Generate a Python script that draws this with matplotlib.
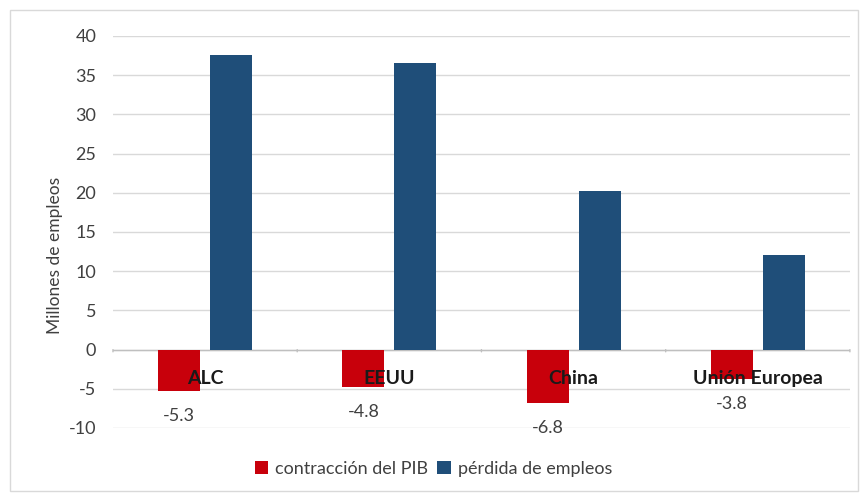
import matplotlib
matplotlib.use("Agg")
import matplotlib.pyplot as plt
from matplotlib.patches import Rectangle
import numpy as np

categories = ["ALC", "EEUU", "China", "Unión Europea"]
contraccion_pib = [-5.3, -4.8, -6.8, -3.8]
perdida_empleos = [37.6, 36.5, 20.2, 12.1]
pib_labels = ["-5.3", "-4.8", "-6.8", "-3.8"]
yticks = [-10, -5, 0, 5, 10, 15, 20, 25, 30, 35, 40]

plt.rcParams['font.family'] = ['Lato', 'DejaVu Sans']

RED = '#c8000b'
BLUE = '#1f4e79'
TXT = '#404040'

fig = plt.figure(figsize=(8.67, 5.0), dpi=100)
fig.patches.append(Rectangle((0.012, 0.018), 0.978, 0.962, transform=fig.transFigure,
                             fill=False, edgecolor='#d9d9d9', linewidth=1.0))
ax = fig.add_axes([0.1303, 0.144, 0.850, 0.784])

x = np.arange(len(categories))
w = 0.228
off = 0.141
ax.bar(x - off, contraccion_pib, width=w, color=RED, label='contracción del PIB', zorder=3)
ax.bar(x + off, perdida_empleos, width=w, color=BLUE, label='pérdida de empleos', zorder=3)

ax.set_ylim(-10, 40)
ax.set_xlim(-0.5, len(categories) - 0.5)
ax.set_yticks(yticks)
ax.set_yticklabels([str(t) for t in yticks], fontsize=13, color=TXT)
ax.tick_params(axis='y', length=0, pad=12)
ax.yaxis.grid(True, color='#d9d9d9', linewidth=1.0, zorder=0)
ax.set_axisbelow(True)
for s in ['top', 'right', 'left', 'bottom']:
    ax.spines[s].set_visible(False)

# zero axis line with category boundary ticks
ax.axhline(0, color='#bfbfbf', linewidth=1.0, zorder=2)
ax.set_xticks([])
for b in np.arange(-0.5, len(categories), 1.0):
    ax.annotate('', xy=(b, 0), xytext=(0, -5), textcoords='offset pixels',
                xycoords='data', arrowprops=dict(arrowstyle='-', color='#bfbfbf', lw=1.0))

# category labels
for i, c in enumerate(categories):
    ax.annotate(c, xy=(i, 0), xytext=(0, -29), textcoords='offset pixels',
                ha='center', va='center', fontsize=14, fontweight='bold',
                color='#1a1a1a', zorder=5)

# data labels for PIB
for i, (v, lab) in enumerate(zip(contraccion_pib, pib_labels)):
    ax.annotate(lab, xy=(i - off, v), xytext=(0, -25), textcoords='offset pixels',
                ha='center', va='center', fontsize=13, color=TXT, zorder=5)

fig.text(0.064, 0.49, 'Millones de empleos', rotation=90, ha='center', va='center',
         fontsize=12.5, color=TXT)

leg = fig.legend(loc='center', bbox_to_anchor=(0.5, 0.062), ncol=2, frameon=False,
                 fontsize=13, handlelength=0.75, handleheight=0.75, handletextpad=0.4,
                 columnspacing=0.5, labelcolor=TXT)

fig.savefig('out.png', dpi=100)
